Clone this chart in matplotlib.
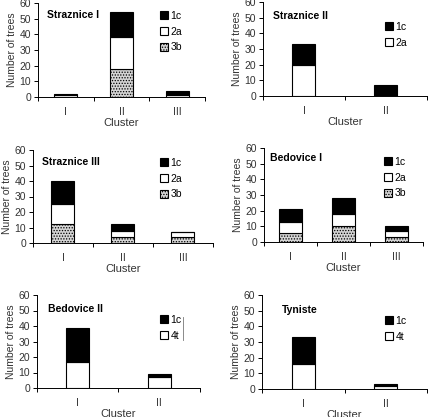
import matplotlib
matplotlib.use("Agg")
import matplotlib.pyplot as plt
from matplotlib.lines import Line2D
import numpy as np

plt.rcParams["font.family"] = ["Liberation Sans", "DejaVu Sans"]
plt.rcParams["hatch.color"] = "#888888"
plt.rcParams["hatch.linewidth"] = 0.6

W, H = 435, 417

# stacked values per site, bottom -> top
sites = ["Straznice I", "Straznice II", "Straznice III",
         "Bedovice I", "Bedovice II", "Tyniste"]

str1_clusters = ["I", "II", "III"]
str1_3b = [0, 18, 0]
str1_2a = [1, 20, 1]
str1_1c = [1, 16, 3]

str2_clusters = ["I", "II"]
str2_2a = [20, 0]
str2_1c = [13, 7]

str3_clusters = ["I", "II", "III"]
str3_3b = [12, 4, 4]
str3_2a = [13, 4, 3]
str3_1c = [15, 4, 0]

bed1_clusters = ["I", "II", "III"]
bed1_3b = [6, 10, 3]
bed1_2a = [7, 8, 4]
bed1_1c = [8, 10, 3]

bed2_clusters = ["I", "II"]
bed2_4t = [17, 7]
bed2_1c = [22, 2]

tyn_clusters = ["I", "II"]
tyn_4t = [16, 2]
tyn_1c = [17, 1]

STYLE = {
    "1c": dict(color="black", hatch=None),
    "2a": dict(color="white", hatch=None),
    "4t": dict(color="white", hatch=None),
    "3b": dict(color="#d4d4d4", hatch="......"),
}


def px_axes(fig, x0, x1, y0, y60):
    return fig.add_axes([x0 / W, 1 - y0 / H, (x1 - x0) / W, (y0 - y60) / H])


def draw_panel(fig, box, title, title_xy, clusters, series, leg_xy, bar_px):
    ax = px_axes(fig, *box)
    n = len(clusters)
    x = np.arange(n)
    # bar width in data units from pixel width
    width = bar_px / ((box[1] - box[0]) / n)
    bottom = np.zeros(n)
    handles = {}
    for name, vals in series:
        st = STYLE[name]
        vals = np.array(vals, dtype=float)
        b = ax.bar(x, vals, width, bottom=bottom, color=st["color"],
                   edgecolor="black", linewidth=0.8, hatch=st["hatch"],
                   label=name, zorder=2)
        handles[name] = b
        bottom = bottom + vals
    ax.set_xlim(-0.5, n - 0.5)
    ax.set_ylim(0, 60)
    ax.set_yticks(np.arange(0, 61, 10))
    ax.set_xticks(x)
    ax.set_xticklabels(clusters)
    ax.set_xticks(np.arange(-0.5, n, 1.0), minor=True)
    ax.tick_params(axis="x", which="major", length=0, labelsize=7.5, pad=7,
                   colors="#333333")
    ax.tick_params(axis="x", which="minor", length=3, width=0.7,
                   direction="out")
    ax.tick_params(axis="y", length=3, width=0.7, direction="out",
                   labelsize=7.5, pad=2, colors="#333333")
    ax.tick_params(axis="both", which="both", color="black")
    for s in ("top", "right"):
        ax.spines[s].set_visible(False)
    for s in ("left", "bottom"):
        ax.spines[s].set_linewidth(0.7)
    ax.set_xlabel("Cluster", fontsize=8, labelpad=1, color="#333333")
    ax.set_ylabel("Number of trees", fontsize=7.5, labelpad=2,
                  color="#333333")
    fig.text(title_xy[0] / W, 1 - title_xy[1] / H, title, fontsize=7.5,
             fontweight="bold", va="center", ha="left")
    order = [name for name, _ in series][::-1]
    leg = fig.legend([handles[k] for k in order], order,
                     loc="upper left",
                     bbox_to_anchor=(leg_xy[0] / W, 1 - leg_xy[1] / H),
                     frameon=False, fontsize=7.5, handlelength=0.8,
                     handleheight=0.8, handletextpad=0.2, labelspacing=0.55,
                     borderpad=0, borderaxespad=0)
    return ax, leg


fig = plt.figure(figsize=(W / 100, H / 100), dpi=100)

draw_panel(fig, (38, 205, 97, 3), sites[0], (47, 15), str1_clusters,
           [("3b", str1_3b), ("2a", str1_2a), ("1c", str1_1c)], (160, 11), 23)
draw_panel(fig, (263, 427, 96, 2), sites[1], (273, 16), str2_clusters,
           [("2a", str2_2a), ("1c", str2_1c)], (385, 22), 23)
draw_panel(fig, (33, 213, 243, 150), sites[2], (42, 162), str3_clusters,
           [("3b", str3_3b), ("2a", str3_2a), ("1c", str3_1c)], (160, 158), 23)
draw_panel(fig, (264, 423, 242, 148), sites[3], (270, 158), bed1_clusters,
           [("3b", bed1_3b), ("2a", bed1_2a), ("1c", bed1_1c)], (384, 157), 23)
draw_panel(fig, (37, 200, 388, 295), sites[4], (48, 309), bed2_clusters,
           [("4t", bed2_4t), ("1c", bed2_1c)], (160, 315), 23)
draw_panel(fig, (262, 427, 389, 295), sites[5], (282, 310), tyn_clusters,
           [("4t", tyn_4t), ("1c", tyn_1c)], (385, 316), 23)

# leftover legend-border stroke seen beside the Bedovice II legend
fig.add_artist(Line2D([183 / W, 183 / W], [1 - 317 / H, 1 - 340 / H],
                      color="#777777", linewidth=0.6))

fig.savefig("out.png", dpi=100)
